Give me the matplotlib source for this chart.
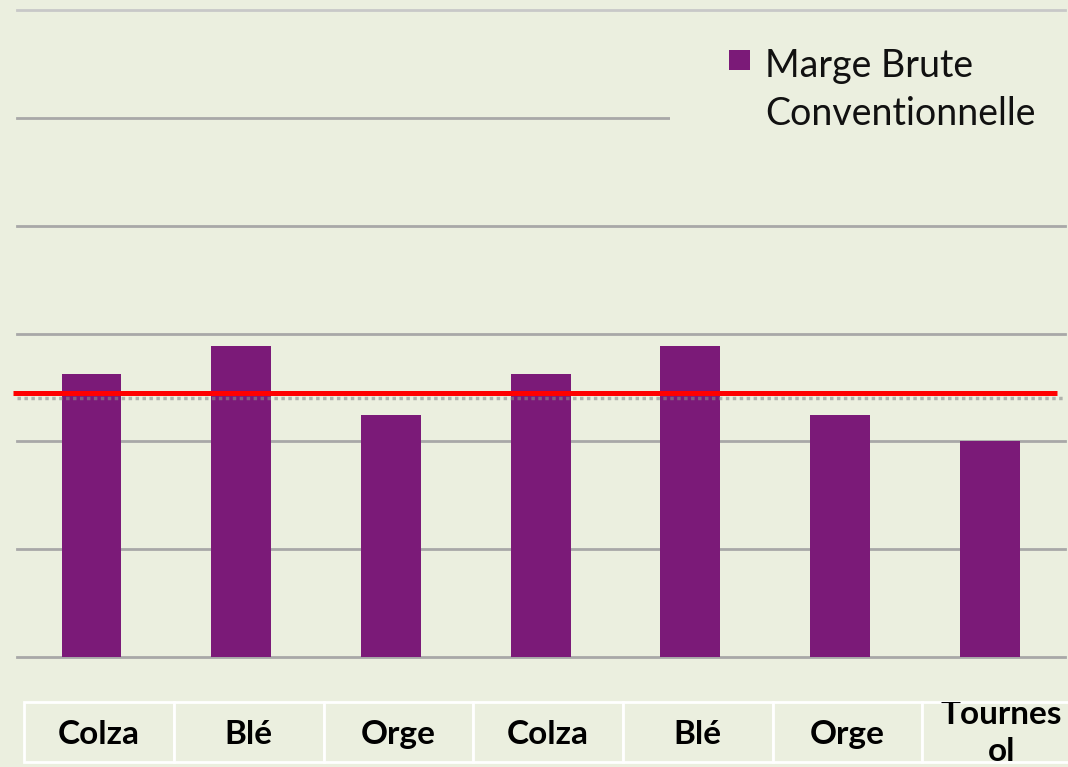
import matplotlib
matplotlib.use("Agg")
import matplotlib.pyplot as plt
from matplotlib.patches import Rectangle
import matplotlib.transforms as mtransforms

categories = ["Colza", "Blé", "Orge", "Colza", "Blé", "Orge", "Tournes\nol"]
marge_brute = [2.62, 2.88, 2.24, 2.62, 2.88, 2.24, 2.00]
reference_line = 2.45
shadow_line = 2.40
gridlines = [0, 1, 2, 3, 4, 5, 6]
legend_label = "Marge Brute\nConventionnelle"

BG = "#EBEFDF"
PURPLE = "#7B1A78"

plt.rcParams['font.family'] = ['Lato', 'DejaVu Sans']

fig = plt.figure(figsize=(10.68, 7.67), dpi=100, facecolor=BG)
W, H = 1068, 767
ax = fig.add_axes([16.7 / W, (H - 657) / H, (1064.6 - 16.7) / W, (657 - 10) / H])
ax.set_facecolor(BG)
ax.set_xlim(-0.5, len(categories) - 0.5)
ax.set_ylim(gridlines[0], gridlines[-1])
for s in ax.spines.values():
    s.set_visible(False)
ax.set_xticks([])
ax.set_yticks([])

# gridlines
for g in gridlines:
    col = "#c8c8c8" if g == gridlines[-1] else "#a8a8a8"
    ax.axhline(g, color=col, lw=2, zorder=1, clip_on=False)

x = list(range(len(categories)))
ax.bar(x, marge_brute, width=0.4, color=PURPLE, zorder=3)

# legend background covering part of a gridline
fig.patches.append(Rectangle((670 / W, 1 - 210 / H), (W - 670) / W, 190 / H,
                             transform=fig.transFigure, facecolor=BG, edgecolor='none',
                             zorder=10, figure=fig))

# reference lines
ax.axhline(shadow_line, color="#8a8a8a", lw=2.5, alpha=0.6, ls=(0, (1, 1)), zorder=4, clip_on=False)
ax.plot([-0.525, len(categories) - 0.55], [reference_line, reference_line], color="#FF0000",
        lw=3.6, zorder=5, clip_on=False, solid_capstyle='butt')

# legend (manual: marker aligned with first line)
fig.add_artist(Rectangle((729 / W, 1 - 70 / H), 21 / W, 20 / H, transform=fig.transFigure,
                         facecolor=PURPLE, edgecolor='none', zorder=11))
for k, line in enumerate(legend_label.split("\n")):
    fig.text(765 / W, 1 - (77 + 48 * k) / H, line, ha='left', va='baseline', fontsize=27,
             color="#111111", zorder=12)

# category table
trans = mtransforms.blended_transform_factory(ax.transData, fig.transFigure)
off = 0.05
top_y = 1 - 702 / H
bot_y = 1 - 762 / H
for i, cat in enumerate(categories):
    cell = Rectangle((i - 0.5 + off, bot_y), 1, top_y - bot_y, transform=trans,
                     facecolor=BG, edgecolor='white', lw=2, clip_on=False, zorder=1)
    ax.add_patch(cell)
    if "\n" in cat:
        t = ax.text(i + off + 0.03, 1 - 700 / H, cat, transform=trans, ha='center', va='top',
                    fontsize=24, fontweight='bold', color='black', linespacing=1.32,
                    multialignment='center')
        t.set_clip_path(cell)
        t.set_clip_on(True)
    else:
        ax.text(i + off, 1 - 744 / H, cat, transform=trans, ha='center', va='baseline',
                fontsize=24, fontweight='bold', color='black')

fig.savefig("out.png", dpi=100, facecolor=BG)
